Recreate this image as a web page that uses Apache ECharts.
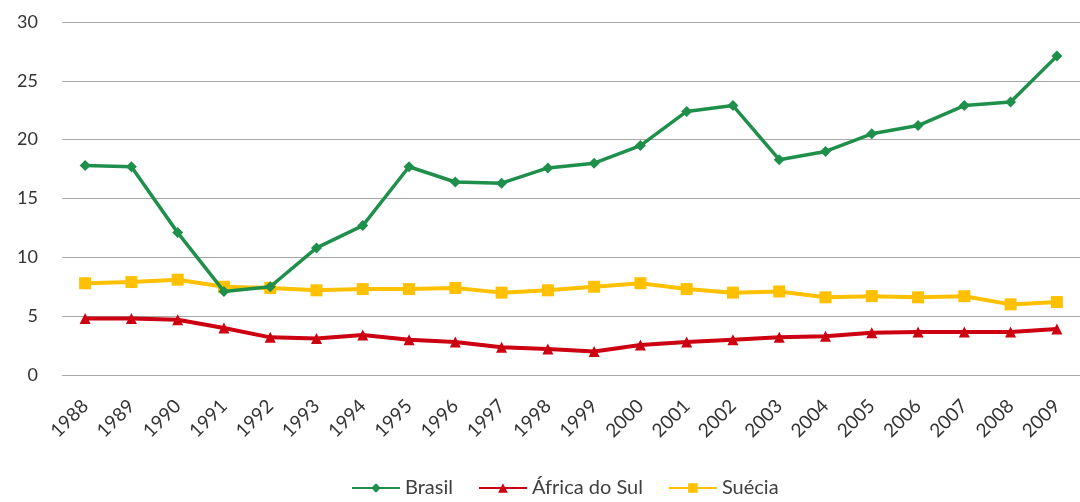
<!DOCTYPE html>
<html>
<head>
<meta charset="utf-8">
<script src="https://cdn.jsdelivr.net/npm/echarts@6/dist/echarts.min.js"></script>
<style>
  html, body { margin: 0; padding: 0; background: #fff; }
  #chart { width: 1080px; height: 502px; }
</style>
</head>
<body>
<div id="chart"></div>
<script>
var anos = ['1988', '1989', '1990', '1991', '1992', '1993', '1994', '1995', '1996', '1997', '1998',
  '1999', '2000', '2001', '2002', '2003', '2004', '2005', '2006', '2007', '2008', '2009']
var brasil = [17.8, 17.7, 12.1, 7.1, 7.5, 10.8, 12.7, 17.7, 16.4, 16.3, 17.6,
  18.0, 19.5, 22.4, 22.9, 18.3, 19.0, 20.5, 21.2, 22.9, 23.2, 27.1]
var africaDoSul = [4.8, 4.8, 4.7, 4.0, 3.2, 3.1, 3.4, 3.0, 2.8, 2.35, 2.2,
  2.0, 2.55, 2.8, 3.0, 3.2, 3.3, 3.6, 3.65, 3.65, 3.65, 3.9]
var suecia = [7.8, 7.9, 8.1, 7.5, 7.4, 7.2, 7.3, 7.3, 7.4, 7.0, 7.2,
  7.5, 7.8, 7.3, 7.0, 7.1, 6.6, 6.7, 6.6, 6.7, 6.0, 6.2]

var fonte = 'Lato'
var chart = echarts.init(document.getElementById('chart'))
var option = {
  animation: false,
  textStyle: { fontFamily: fonte },
  grid: { left: 62, right: -10, top: 22, bottom: 127 },
  legend: {
    bottom: -1,
    left: 346,
    itemWidth: 48,
    itemHeight: 12,
    itemGap: 25,
    textStyle: { fontSize: 20, color: '#404040', fontFamily: fonte },
    data: ['Brasil', 'África do Sul', 'Suécia']
  },
  xAxis: {
    type: 'category',
    data: anos,
    boundaryGap: true,
    axisLine: { show: false },
    axisTick: { show: false },
    axisLabel: { rotate: 45, fontSize: 19, color: '#333', margin: 28, fontFamily: fonte }
  },
  yAxis: {
    type: 'value',
    min: 0,
    max: 30,
    interval: 5,
    axisLabel: { fontSize: 18, color: '#333', margin: 24, fontFamily: fonte },
    splitLine: { lineStyle: { color: '#a6a6a6', width: 1 } }
  },
  series: [
    {
      name: 'Brasil',
      type: 'line',
      data: brasil,
      symbol: 'diamond',
      symbolSize: 11,
      color: '#1f8f4c',
      lineStyle: { width: 3.5 },
      z: 3
    },
    {
      name: 'África do Sul',
      type: 'line',
      data: africaDoSul,
      symbol: 'triangle',
      symbolSize: 11,
      color: '#cc0011',
      lineStyle: { width: 4 },
      z: 2
    },
    {
      name: 'Suécia',
      type: 'line',
      data: suecia,
      symbol: 'rect',
      symbolSize: 12,
      color: '#ffc000',
      lineStyle: { width: 4 },
      z: 2
    }
  ]
}
chart.setOption(option)
</script>
</body>
</html>
